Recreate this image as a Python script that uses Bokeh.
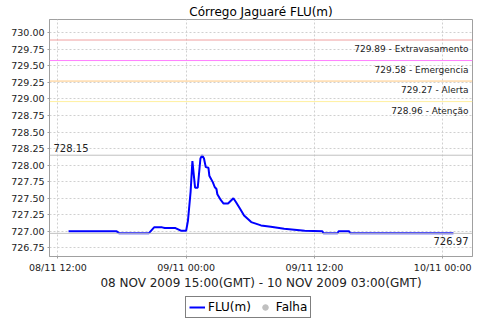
import pandas as pd
from bokeh.plotting import figure
from bokeh.layouts import column
from bokeh.models import (Range1d, FixedTicker, PrintfTickFormatter, DatetimeTickFormatter,
                          Span, Label, Legend, LegendItem)
from bokeh.embed import file_html
from bokeh.resources import INLINE

# ---- data (local time) ----
times = ["2009-11-08 13:00", "2009-11-08 17:30", "2009-11-08 17:45", "2009-11-08 20:30",
         "2009-11-08 21:00", "2009-11-08 21:45", "2009-11-08 22:00", "2009-11-08 23:00",
         "2009-11-08 23:15", "2009-11-08 23:30", "2009-11-09 00:00", "2009-11-09 00:10",
         "2009-11-09 00:25", "2009-11-09 00:35", "2009-11-09 00:50", "2009-11-09 01:05",
         "2009-11-09 01:20", "2009-11-09 01:30", "2009-11-09 01:40", "2009-11-09 01:50",
         "2009-11-09 02:05", "2009-11-09 02:10", "2009-11-09 02:30", "2009-11-09 02:40",
         "2009-11-09 02:50", "2009-11-09 02:55", "2009-11-09 03:15", "2009-11-09 03:30",
         "2009-11-09 03:55", "2009-11-09 04:25", "2009-11-09 04:40", "2009-11-09 05:05",
         "2009-11-09 05:25", "2009-11-09 06:05", "2009-11-09 07:00", "2009-11-09 07:55",
         "2009-11-09 09:10", "2009-11-09 11:05", "2009-11-09 12:45", "2009-11-09 12:50",
         "2009-11-09 14:10", "2009-11-09 14:15", "2009-11-09 15:15", "2009-11-09 15:20",
         "2009-11-10 01:00"]
flu = [727.00, 727.00, 726.97, 726.97,
       727.06, 727.06, 727.05, 727.05,
       727.03, 727.01, 727.01, 727.16,
       727.60, 728.06, 727.66, 727.66,
       728.10, 728.15, 728.10, 727.97,
       727.96, 727.84, 727.74, 727.67,
       727.64, 727.56, 727.47, 727.42,
       727.42, 727.50, 727.44, 727.33,
       727.24, 727.14, 727.09, 727.07,
       727.04, 727.01, 727.00, 726.97,
       726.97, 727.00, 727.00, 726.97,
       726.97]

limit_values = [729.89, 729.58, 729.27, 728.96]
limit_names = ["Extravasamento", "Emergencia", "Alerta", "Atenção"]
limit_colors = ["#f0a0a0", "#ff80ff", "#ffc880", "#fff0a0"]

y_ticks = [726.75, 727.00, 727.25, 727.50, 727.75, 728.00, 728.25, 728.50,
           728.75, 729.00, 729.25, 729.50, 729.75, 730.00]
x_ticks = ["2009-11-08 12:00", "2009-11-09 00:00", "2009-11-09 12:00", "2009-11-10 00:00"]
x_range_str = ["2009-11-08 11:13", "2009-11-10 02:47"]
y_range_vals = [726.62, 730.20]

title_text = "Córrego Jaguaré FLU(m)"
period_text = "08 NOV 2009 15:00(GMT) - 10 NOV 2009 03:00(GMT)"
legend_labels = ["FLU(m)", "Falha"]

FONT = "DejaVu Sans"

t = pd.to_datetime(times)
xr = pd.to_datetime(x_range_str)
xt = pd.to_datetime(x_ticks)
to_ms = lambda d: d.value / 1e6

p = figure(frame_width=423, frame_height=237, x_axis_type="datetime", output_backend="svg",
           toolbar_location=None,
           x_range=Range1d(to_ms(xr[0]), to_ms(xr[1])), y_range=Range1d(*y_range_vals),
           min_border_left=49, min_border_right=8, min_border_top=19, min_border_bottom=40)

p.title.text = title_text
p.title.align = "center"
p.title.text_font = FONT
p.title.text_font_size = "12px"
p.title.text_font_style = "normal"
p.title.text_color = "#000000"
p.title.offset = -20
p.title.standoff = 2

p.background_fill_color = "white"
p.border_fill_color = "white"
p.outline_line_color = "#a0a0a0"

# axes
for ax in (p.xaxis[0], p.yaxis[0]):
    ax.axis_line_color = "#a0a0a0"
    ax.major_tick_line_color = "#a0a0a0"
    ax.major_tick_out = 2
    ax.major_tick_in = 0
    ax.minor_tick_line_color = None
    ax.major_label_text_font = FONT
    ax.major_label_text_font_size = "9.5px"
    ax.major_label_text_color = "#222222"
    ax.major_label_standoff = 3

p.yaxis.ticker = FixedTicker(ticks=y_ticks)
p.yaxis.formatter = PrintfTickFormatter(format="%.2f")
p.xaxis.ticker = FixedTicker(ticks=[to_ms(d) for d in xt])
fmt = "%d/%m %H:%M"
p.xaxis.formatter = DatetimeTickFormatter(microseconds=fmt, milliseconds=fmt, seconds=fmt,
                                          minsec=fmt, minutes=fmt, hourmin=fmt, hours=fmt,
                                          days=fmt, months=fmt, years=fmt)
p.xaxis.axis_label = period_text
p.xaxis.axis_label_text_font = FONT
p.xaxis.axis_label_text_font_size = "12px"
p.xaxis.axis_label_text_font_style = "normal"
p.xaxis.axis_label_text_color = "#222222"
p.xaxis.axis_label_standoff = 0

# grid
for g in (p.xgrid[0], p.ygrid[0]):
    g.grid_line_color = "#d0d0d0"
    g.grid_line_dash = "2 2"
    g.grid_line_width = 1

# limit lines and labels
for v, name, c in zip(limit_values, limit_names, limit_colors):
    p.add_layout(Span(location=v, dimension="width", line_color=c, line_width=1))
    p.add_layout(Label(x=to_ms(xr[1]), y=v, text=f"{v:.2f} - {name}", x_offset=-4, y_offset=-4,
                       text_align="right", text_baseline="top", text_font=FONT,
                       text_font_size="9px", text_color="#222222"))

# max / min lines
vmax, vmin = max(flu), min(flu)
p.add_layout(Span(location=vmax, dimension="width", line_color="#c0c0c0", line_width=1))
p.add_layout(Span(location=vmin, dimension="width", line_color="#c0c0c0", line_width=1))
p.add_layout(Label(x=to_ms(xr[0]), y=vmax, text=f"{vmax:.2f}", x_offset=4, y_offset=3,
                   text_align="left", text_baseline="bottom", text_font=FONT,
                   text_font_size="10px", text_color="#222222"))
p.add_layout(Label(x=to_ms(xr[1]), y=vmin, text=f"{vmin:.2f}", x_offset=-4, y_offset=-4,
                   text_align="right", text_baseline="top", text_font=FONT,
                   text_font_size="10px", text_color="#222222"))

# series
p.line(t, flu, line_color="#0000ff", line_width=2)

# legend strip (separate small figure below the chart)
lg = figure(width=480, height=24, output_backend="svg", toolbar_location=None,
            x_range=Range1d(0, 1), y_range=Range1d(0, 1),
            min_border=0, x_axis_type=None, y_axis_type=None)
lg.outline_line_color = None
lg.grid.visible = False
lg.background_fill_color = "white"
lg.border_fill_color = "white"
lr_line = lg.line([float("nan")], [float("nan")], line_color="#0000ff", line_width=2)
lr_fail = lg.scatter([float("nan")], [float("nan")], size=8, color="#c0c0c0")
legend = Legend(items=[LegendItem(label=legend_labels[0], renderers=[lr_line]),
                       LegendItem(label=legend_labels[1], renderers=[lr_fail])],
                orientation="horizontal", location=(136, 2),
                label_text_font=FONT, label_text_font_size="12px",
                label_text_color="#000000",
                border_line_color="#000000", border_line_width=1,
                background_fill_color="white",
                padding=3, spacing=6, margin=0, glyph_width=16, glyph_height=14,
                label_standoff=3, label_height=14)
lg.add_layout(legend, "center")

open("out.html", "w").write(file_html(column(p, lg, spacing=0), INLINE))
